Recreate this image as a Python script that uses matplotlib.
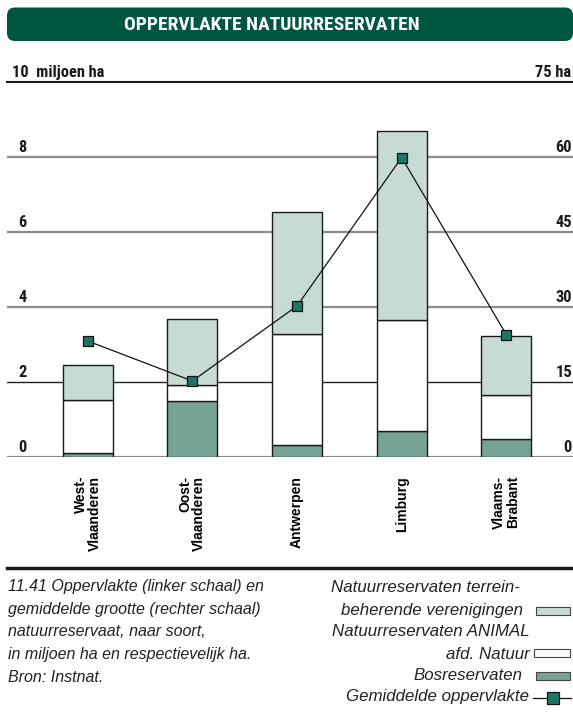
import matplotlib
matplotlib.use("Agg")
import matplotlib.pyplot as plt
from matplotlib import font_manager
from matplotlib.patches import FancyBboxPatch, Rectangle
from matplotlib.lines import Line2D
import matplotlib.transforms as mtransforms

# ---------------- data ----------------
categories = ["West-\nVlaanderen", "Oost-\nVlaanderen", "Antwerpen", "Limburg", "Vlaams-\nBrabant"]
bos = [0.10, 1.48, 0.32, 0.69, 0.46]              # Bosreservaten (miljoen ha)
animal = [1.42, 0.43, 2.96, 2.94, 1.19]           # Natuurreservaten ANIMAL afd. Natuur
terrein = [0.92, 1.75, 3.25, 5.05, 1.57]          # Natuurreservaten terreinbeherende verenigingen
gemiddeld = [23.1, 15.1, 30.1, 59.8, 24.4]        # Gemiddelde oppervlakte (ha)
left_ticks = [0, 2, 4, 6, 8]
right_ticks = [0, 15, 30, 45, 60]

title = "OPPERVLAKTE NATUURRESERVATEN"
caption = ["11.41 Oppervlakte (linker schaal) en",
           "gemiddelde grootte (rechter schaal)",
           "natuurreservaat, naar soort,",
           "in miljoen ha en respectievelijk ha.",
           "Bron: Instnat."]
legend_lines = ["Natuurreservaten terrein-", "beherende verenigingen",
                "Natuurreservaten ANIMAL", "afd. Natuur",
                "Bosreservaten", "Gemiddelde oppervlakte"]

# ---------------- style ----------------
names = {f.name for f in font_manager.fontManager.ttflist}
COND = None
for cand in ["Liberation Sans Narrow", "Roboto Condensed", "DejaVu Sans Condensed",
             "Open Sans Condensed", "Noto Sans Condensed"]:
    if cand in names:
        COND = cand
        break
SANS = "Liberation Sans" if "Liberation Sans" in names else "DejaVu Sans"
if COND is None:
    COND = SANS
    cond_scale = 0.88
else:
    cond_scale = 1.0

C_DARK = "#00563f"
C_LIGHT = "#c7dbd5"
C_BOS = "#76a396"
C_MARK = "#1f7563"
C_GRID = "#8c8c8c"
C_TXT = "#1a1a1a"

W, H = 573, 716
fig = plt.figure(figsize=(W / 100, H / 100), dpi=100)

def fx(px):
    return px / W

def fy(py):
    return 1 - py / H

# banner
banner = FancyBboxPatch((fx(7), fy(41)), fx(566), (41 - 7.5) / H,
                        boxstyle="round,pad=0,rounding_size=0.014",
                        transform=fig.transFigure, facecolor=C_DARK,
                        edgecolor="none", mutation_aspect=W / H)
fig.patches.append(banner)
fig.text(fx(271.5), fy(25), title, color="white", fontsize=14.0 * cond_scale,
         fontweight="bold", family=COND, ha="center", va="center")

# header labels
TS = 11.8 * cond_scale
fig.text(fx(12), fy(77), "10  miljoen ha", fontsize=TS, fontweight="bold",
         family=COND, ha="left", va="baseline", color=C_TXT)
fig.text(fx(571), fy(77), "75 ha", fontsize=TS, fontweight="bold",
         family=COND, ha="right", va="baseline", color=C_TXT)

# ---------------- axes ----------------
ax = fig.add_axes([fx(7), fy(456.5), fx(566), 375 / H])
n = len(categories)
spacing = 104.65
ax.set_xlim((7 - 87.7) / spacing, (573 - 87.7) / spacing)
ax.set_ylim(0, 10)
for s in ax.spines.values():
    s.set_visible(False)

for v in left_ticks:
    if v == 2:
        ax.axhline(v, color="#222222", lw=1.0, zorder=1)
    else:
        ax.axhline(v, color=C_GRID, lw=1.6, zorder=1)
ax.axhline(10, color=C_TXT, lw=1.5, zorder=1, clip_on=False)

x = list(range(n))
bw = 0.478
bottom2 = [b + a for b, a in zip(bos, animal)]
ax.bar(x, bos, bw, color=C_BOS, edgecolor=C_TXT, lw=1.0, zorder=3)
ax.bar(x, animal, bw, bottom=bos, color="white", edgecolor=C_TXT, lw=1.0, zorder=3)
ax.bar(x, terrein, bw, bottom=bottom2, color=C_LIGHT, edgecolor=C_TXT, lw=1.0, zorder=3)

# right axis
ax2 = ax.twinx()
ax2.set_ylim(0, 75)
ax2.set_xlim(ax.get_xlim())
for s in ax2.spines.values():
    s.set_visible(False)
ax2.tick_params(axis="y", left=False, right=False, labelleft=False, labelright=False)
ax.tick_params(axis="y", left=False, right=False, labelleft=False, labelright=False)

ax.set_xticks(x)
ax.set_xticklabels(categories, rotation=90, fontsize=10, fontweight="bold",
                   family=SANS, ha="center", va="top", linespacing=1.0)
for lab in ax.get_xticklabels():
    lab.set_multialignment("right")
ax.tick_params(axis="x", length=0, pad=14)

# left tick labels
trans_l = mtransforms.offset_copy(
    mtransforms.blended_transform_factory(fig.transFigure, ax.transData),
    fig=fig, x=0, y=4.5, units="dots")
for v in left_ticks:
    ax.text(fx(18.5), v, str(v), transform=trans_l, fontsize=TS, fontweight="bold",
            family=COND, ha="left", va="baseline", color=C_TXT, zorder=5)

trans_r = mtransforms.offset_copy(
    mtransforms.blended_transform_factory(fig.transFigure, ax2.transData),
    fig=fig, x=0, y=4.5, units="dots")
for v in right_ticks:
    ax2.text(fx(572), v, str(v), transform=trans_r, fontsize=TS, fontweight="bold",
             family=COND, ha="right", va="baseline", color=C_TXT)

ax2.plot(x, gemiddeld, color="#111111", lw=0.9, marker="s", markersize=7.5,
         markerfacecolor=C_MARK, markeredgecolor="#111111", markeredgewidth=0.9, zorder=5)

# bottom separator
fig.add_artist(Line2D([fx(7), fx(573)], [fy(568), fy(568)], color=C_TXT,
                      lw=2.5, transform=fig.transFigure))

# caption
cap_y = [587, 609.5, 632, 654.5, 677]
for yy, line in zip(cap_y, caption):
    fig.text(fx(8), fy(yy), line, fontsize=11.5, style="italic", family=SANS,
             ha="left", va="center", color="#222222")

# legend
leg_y = [587, 610, 632, 654.5, 676, 697]
leg_right = [520, 523, 530, 530, 522, 529]
for yy, xr, t in zip(leg_y, leg_right, legend_lines):
    fig.text(fx(xr), fy(yy), t, fontsize=12.2, style="italic", family=SANS,
             ha="right", va="center", color="#222222")

for yy, x0, col in [(611, 536, C_LIGHT), (653, 534, "white"), (676, 536, C_BOS)]:
    fig.patches.append(Rectangle((fx(x0), fy(yy + 4)), fx(570 - x0), 8 / H,
                                 transform=fig.transFigure, facecolor=col,
                                 edgecolor="#444444", lw=0.8))
fig.add_artist(Line2D([fx(533), fx(571)], [fy(698), fy(698)], color="#111111",
                      lw=0.9, transform=fig.transFigure))
fig.add_artist(Line2D([fx(553)], [fy(698)], marker="s", markersize=8,
                      markerfacecolor=C_MARK, markeredgecolor="#111111",
                      markeredgewidth=0.9, transform=fig.transFigure, lw=0))

fig.savefig("out.png", dpi=100)
